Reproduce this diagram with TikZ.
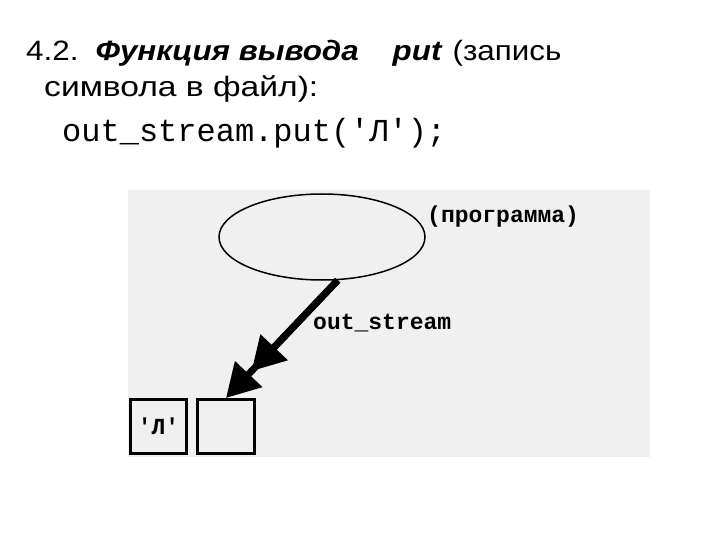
\documentclass[tikz,border=0pt]{standalone}
\usepackage{fontspec}
\setmainfont{Liberation Sans}[FakeStretch=1.12]
\newfontfamily\widefont{Liberation Sans}[FakeStretch=1.2]
\newfontfamily\codefont{Liberation Mono}[Ligatures=TeXOff]
\usetikzlibrary{shapes.geometric,arrows.meta,positioning,calc}
\definecolor{panelgray}{RGB}{240,240,240}
\tikzset{
  titletext/.style={anchor=base west,inner sep=0pt,font=\fontsize{28}{28}\selectfont},
  codetext/.style={anchor=base west,inner sep=0pt,font=\codefont\fontsize{32}{32}\selectfont},
  lbl/.style={inner sep=0pt,font=\codefont\bfseries\fontsize{23}{23}\selectfont},
  cell/.style={draw,line width=3pt,minimum width=56pt,minimum height=54pt,inner sep=0pt},
  arrowline/.style={line width=7pt,-{Triangle[width=36pt,length=33pt]}},
}
\begin{document}
\begin{tikzpicture}
    \useasboundingbox (0pt,0pt) rectangle (720pt,-540pt);
    \fill[white] (0pt,0pt) rectangle (720pt,-540pt);
    % heading
    \node[titletext] (title1) at (26pt,-61pt) {4.2.\hspace{17pt}\textbf{\textit{Функция вывода}}\hspace{34pt}\textbf{\textit{put}}\hspace{10pt}(запись};
    \node[titletext,font=\widefont\fontsize{28}{28}\selectfont] (title2) at (44pt,-97pt) {символа в файл):};
    \node[codetext] (codeline) at (62pt,-142pt) {out\_stream.put('Л');};
    % diagram
    \fill[panelgray] (128pt,-190pt) rectangle (650pt,-457pt);
    \node[draw,ellipse,line width=1.5pt,minimum width=206pt,minimum height=86pt] (prog) at (322pt,-237pt) {};
    \node[lbl,anchor=west] (progname) at (427pt,-217pt) {(программа)};
    \node[cell] (cellA) at (158.5pt,-426.5pt) {\codefont\bfseries\fontsize{23}{23}\selectfont 'Л'};
    \node[cell,minimum width=57pt,right=8pt of cellA] (cellB) {};
    \draw[arrowline] (prog.-70) -- (cellB.north);
    \draw[arrowline] (prog.-70) -- ($(cellB.north)!37pt!(prog.-70)$);
    \node[lbl,anchor=west] (streamname) at (313pt,-323pt) {out\_stream};
\end{tikzpicture}
\end{document}
